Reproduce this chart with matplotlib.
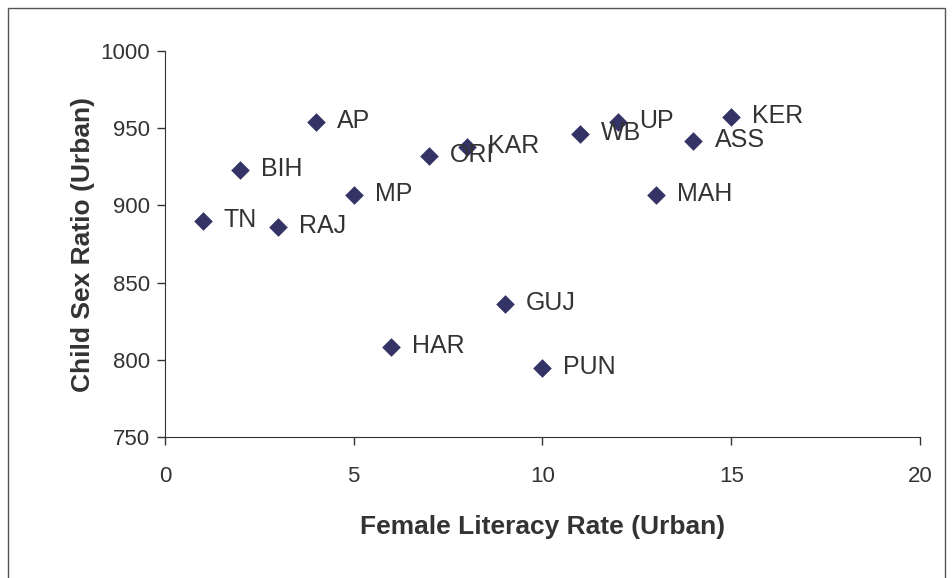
import matplotlib
matplotlib.use("Agg")
import matplotlib.pyplot as plt
from matplotlib.patches import Rectangle

states = ["TN", "BIH", "RAJ", "AP", "MP", "HAR", "ORI", "KAR", "GUJ", "PUN",
          "WB", "UP", "MAH", "ASS", "KER"]
literacy_rank = [1, 2, 3, 4, 5, 6, 7, 8, 9, 10, 11, 12, 13, 14, 15]
child_sex_ratio = [890, 923, 886, 954, 907, 808, 932, 938, 836, 795,
                   946, 954, 907, 942, 957]

plt.rcParams['font.family'] = ['Liberation Sans', 'DejaVu Sans']

fig = plt.figure(figsize=(9.53, 5.78), dpi=100)
ax = fig.add_axes([165/953, 1-437/578, (920-165)/953, (437-51)/578])

ax.scatter(literacy_rank, child_sex_ratio, marker='D', s=90, color='#333366',
           linewidths=0, zorder=3)
for x, y, s in zip(literacy_rank, child_sex_ratio, states):
    ax.annotate(s, (x, y), xytext=(21, 1), textcoords='offset pixels',
                ha='left', va='center', fontsize=18, color='#333333')

ax.set_xlim(0, 20)
ax.set_ylim(750, 1000)
ax.set_xticks([0, 5, 10, 15, 20])
ax.set_yticks([750, 800, 850, 900, 950, 1000])
ax.tick_params(colors='#333333', length=6, width=1, labelsize=16)
ax.tick_params(axis='y', pad=5)
ax.tick_params(axis='x', pad=15)
for side in ['top', 'right']:
    ax.spines[side].set_visible(False)
for side in ['left', 'bottom']:
    ax.spines[side].set_color('#333333')
ax.set_xlabel("Female Literacy Rate (Urban)", fontsize=19, fontweight='bold',
              color='#333333', labelpad=20)
ax.set_ylabel("Child Sex Ratio (Urban)", fontsize=19, fontweight='bold',
              color='#333333', labelpad=4)

fig.add_artist(Rectangle((8/953, -0.01), (945-8)/953, 1-8/578+0.01, transform=fig.transFigure,
                         fill=False, edgecolor='#555555', linewidth=1))

fig.savefig("out.png", dpi=100)
